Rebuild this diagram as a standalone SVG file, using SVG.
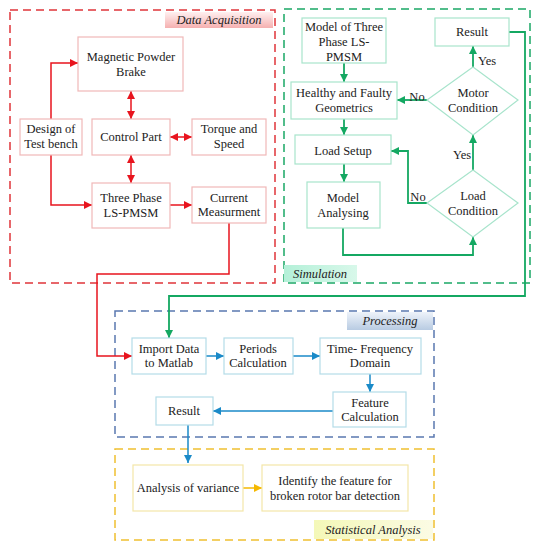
<svg xmlns="http://www.w3.org/2000/svg" width="539" height="550" viewBox="0 0 539 550" font-family="'Liberation Serif', 'Times New Roman', Tinos, 'DejaVu Serif', serif">
<style>
text{font-family:'Liberation Serif','Times New Roman',Tinos,'DejaVu Serif',serif;font-size:12.5px;fill:#222;text-anchor:middle}
.lbl{font-style:italic;font-size:12.5px}
.nr{fill:#fff;stroke:#f0b8b8;stroke-width:1.2}
.ng{fill:#fff;stroke:#a8e4cc;stroke-width:1.2}
.nb{fill:#fff;stroke:#b4dce8;stroke-width:1.2}
.ny{fill:#fff;stroke:#f4e6a8;stroke-width:1.2}
.fr{fill:none;stroke:#e0343a;stroke-width:1.5;stroke-dasharray:8,5}
.fg{fill:none;stroke:#1aa866;stroke-width:1.5;stroke-dasharray:8,5}
.fb{fill:none;stroke:#5a78b0;stroke-width:1.5;stroke-dasharray:8,5}
.fy{fill:none;stroke:#f0c030;stroke-width:1.5;stroke-dasharray:8,5}
.cr{fill:none;stroke:#e8141e;stroke-width:1.5}
.cg{fill:none;stroke:#14a862;stroke-width:1.8}
.cb{fill:none;stroke:#1a8ac8;stroke-width:1.5}
.cy{fill:none;stroke:#f5b800;stroke-width:1.5}
</style>
<defs>
<marker id="ar" viewBox="0 0 10 10" refX="10" refY="5" markerWidth="8" markerHeight="8" markerUnits="userSpaceOnUse" orient="auto-start-reverse"><path d="M0,0L10,5L0,10z" fill="#e8141e"/></marker>
<marker id="ag" viewBox="0 0 10 10" refX="10" refY="5" markerWidth="8" markerHeight="8" markerUnits="userSpaceOnUse" orient="auto-start-reverse"><path d="M0,0L10,5L0,10z" fill="#14a862"/></marker>
<marker id="ab" viewBox="0 0 10 10" refX="10" refY="5" markerWidth="8" markerHeight="8" markerUnits="userSpaceOnUse" orient="auto-start-reverse"><path d="M0,0L10,5L0,10z" fill="#1a8ac8"/></marker>
<marker id="ay" viewBox="0 0 10 10" refX="10" refY="5" markerWidth="8" markerHeight="8" markerUnits="userSpaceOnUse" orient="auto-start-reverse"><path d="M0,0L10,5L0,10z" fill="#f5b800"/></marker>
<linearGradient id="gr" x1="0" y1="0" x2="0" y2="1"><stop offset="0" stop-color="#fff0f0"/><stop offset="1" stop-color="#f5b0b0"/></linearGradient>
<linearGradient id="gg" x1="0" y1="0" x2="1" y2="0"><stop offset="0" stop-color="#b4f0d8"/><stop offset="1" stop-color="#d8f8ea"/></linearGradient>
<linearGradient id="gb" x1="0" y1="0" x2="0" y2="1"><stop offset="0" stop-color="#eef3fa"/><stop offset="1" stop-color="#b8cbe2"/></linearGradient>
<linearGradient id="gy" x1="0" y1="0" x2="1" y2="0"><stop offset="0" stop-color="#f4f8b8"/><stop offset="1" stop-color="#fbfbe4"/></linearGradient>
</defs>
<rect width="539" height="550" fill="#fff"/>

<g id="frames">
<rect class="fr" x="10" y="10" width="265" height="273"/>
<rect class="fg" x="284" y="9" width="246" height="274"/>
<rect class="fb" x="115" y="311" width="319" height="126"/>
<rect class="fy" x="115" y="449" width="319" height="91"/>
</g>

<g id="frame-labels">
<rect x="165" y="12" width="108" height="16" fill="url(#gr)"/>
<text class="lbl" x="219" y="24">Data Acquisition</text>
<rect x="284" y="265" width="73" height="17" fill="url(#gg)"/>
<text class="lbl" x="320" y="278">Simulation</text>
<rect x="347" y="312" width="86" height="18" fill="url(#gb)"/>
<text class="lbl" x="390" y="325">Processing</text>
<rect x="314" y="520" width="119" height="19" fill="url(#gy)"/>
<text class="lbl" x="373" y="534">Statistical Analysis</text>
</g>

<g id="connectors">
<path class="cr" d="M51,119V63H78" marker-end="url(#ar)"/>
<path class="cr" d="M51,155V205H92" marker-end="url(#ar)"/>
<path class="cr" d="M131,91V119" marker-start="url(#ar)" marker-end="url(#ar)"/>
<path class="cr" d="M170,137H192" marker-start="url(#ar)" marker-end="url(#ar)"/>
<path class="cr" d="M131,155V183" marker-start="url(#ar)" marker-end="url(#ar)"/>
<path class="cr" d="M170,205H192" marker-end="url(#ar)"/>
<path class="cr" d="M229,223V274H97V356H132" marker-end="url(#ar)"/>

<path class="cg" d="M344,63V82" marker-end="url(#ag)"/>
<path class="cg" d="M344,119V135" marker-end="url(#ag)"/>
<path class="cg" d="M344,164V182" marker-end="url(#ag)"/>
<path class="cg" d="M343,228V255H473V237" marker-end="url(#ag)"/>
<path class="cg" d="M427,203H408V151H391" marker-end="url(#ag)"/>
<path class="cg" d="M473,170V135" marker-end="url(#ag)"/>
<path class="cg" d="M427,100H397" marker-end="url(#ag)"/>
<path class="cg" d="M473,67V46" marker-end="url(#ag)"/>
<path class="cg" d="M509,32H525V296H169V338" marker-end="url(#ag)"/>

<path class="cb" d="M206,356H224" marker-end="url(#ab)"/>
<path class="cb" d="M293,356H320" marker-end="url(#ab)"/>
<path class="cb" d="M370,374V392" marker-end="url(#ab)"/>
<path class="cb" d="M333,411H213" marker-end="url(#ab)"/>
<path class="cb" d="M188,425V463" marker-end="url(#ab)"/>

<path class="cy" d="M243,488H262" marker-end="url(#ay)"/>

<text x="417" y="101">No</text>
<text x="418" y="201">No</text>
<text x="462" y="159">Yes</text>
<text x="487" y="65">Yes</text>
</g>

<g id="magnetic-powder-brake"><rect class="nr" x="78" y="37" width="105" height="54"/><text x="131" y="61">Magnetic Powder</text><text x="131" y="76">Brake</text></g>
<g id="design-test-bench"><rect class="nr" x="20" y="119" width="62" height="36"/><text x="51" y="133">Design of</text><text x="51" y="148">Test bench</text></g>
<g id="control-part"><rect class="nr" x="92" y="119" width="78" height="36"/><text x="131" y="141">Control Part</text></g>
<g id="torque-speed"><rect class="nr" x="192" y="119" width="74" height="36"/><text x="229" y="133">Torque and</text><text x="229" y="148">Speed</text></g>
<g id="three-phase"><rect class="nr" x="92" y="183" width="78" height="45"/><text x="131" y="202">Three Phase</text><text x="131" y="217">LS-PMSM</text></g>
<g id="current-measurment"><rect class="nr" x="192" y="187" width="74" height="36"/><text x="229" y="202">Current</text><text x="229" y="216">Measurment</text></g>

<g id="model-three-phase"><rect class="ng" x="302" y="18" width="84" height="45"/><text x="344" y="31">Model of Three</text><text x="344" y="46">Phase LS-</text><text x="344" y="61">PMSM</text></g>
<g id="result-sim"><rect class="ng" x="435" y="18" width="74" height="28"/><text x="472" y="36">Result</text></g>
<g id="healthy-faulty"><rect class="ng" x="291" y="82" width="106" height="37"/><text x="344" y="97">Healthy and Faulty</text><text x="344" y="112">Geometrics</text></g>
<g id="load-setup"><rect class="ng" x="295" y="135" width="96" height="29"/><text x="343" y="155">Load Setup</text></g>
<g id="model-analysing"><rect class="ng" x="307" y="182" width="73" height="46"/><text x="343" y="202">Model</text><text x="343" y="217">Analysing</text></g>
<g id="motor-condition"><path class="ng" d="M473,67L518,100L473,135L427,100z"/><text x="473" y="97">Motor</text><text x="473" y="112">Condition</text></g>
<g id="load-condition"><path class="ng" d="M473,170L518,203L473,237L427,203z"/><text x="473" y="200">Load</text><text x="473" y="215">Condition</text></g>

<g id="import-data"><rect class="nb" x="132" y="338" width="74" height="36"/><text x="169" y="353">Import Data</text><text x="169" y="367">to Matlab</text></g>
<g id="periods-calc"><rect class="nb" x="224" y="338" width="69" height="36"/><text x="258" y="353">Periods</text><text x="258" y="367">Calculation</text></g>
<g id="time-frequency"><rect class="nb" x="320" y="338" width="101" height="36"/><text x="370" y="353">Time- Frequency</text><text x="370" y="367">Domain</text></g>
<g id="feature-calc"><rect class="nb" x="333" y="392" width="73" height="35"/><text x="370" y="407">Feature</text><text x="370" y="421">Calculation</text></g>
<g id="result-proc"><rect class="nb" x="156" y="397" width="57" height="28"/><text x="184" y="415">Result</text></g>

<g id="anova"><rect class="ny" x="133" y="465" width="110" height="46"/><text x="188" y="492">Analysis of variance</text></g>
<g id="identify-feature"><rect class="ny" x="262" y="465" width="146" height="46"/><text x="335" y="485">Identify the feature for</text><text x="335" y="500">broken rotor bar detection</text></g>
</svg>
